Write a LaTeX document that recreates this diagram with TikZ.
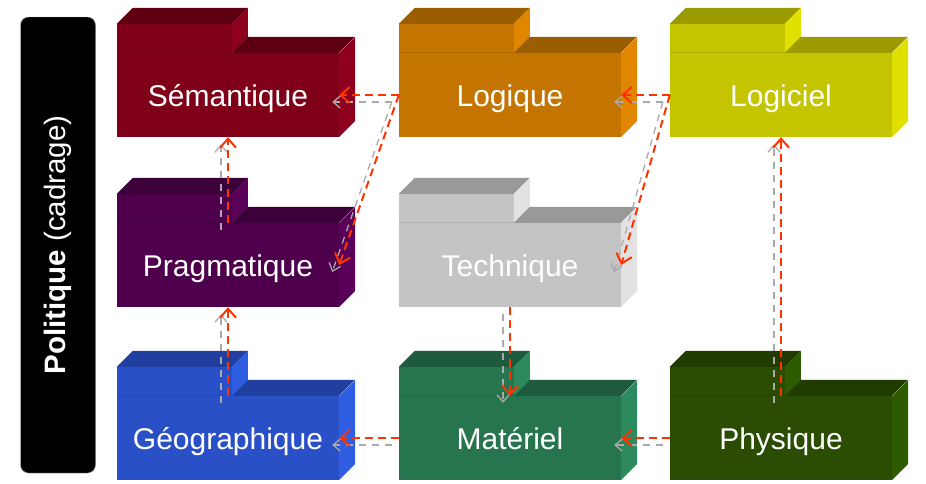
\documentclass[tikz,border=0pt]{standalone}
\usepackage{fontspec}
\setmainfont{Liberation Sans}
\usetikzlibrary{arrows.meta}

\definecolor{sem-front}{HTML}{800019}
\definecolor{sem-top}{HTML}{5E0012}
\definecolor{sem-side}{HTML}{8E001E}
\definecolor{lgq-front}{HTML}{C47400}
\definecolor{lgq-top}{HTML}{9A5D00}
\definecolor{lgq-side}{HTML}{E08600}
\definecolor{lgc-front}{HTML}{C4C400}
\definecolor{lgc-top}{HTML}{9B9B00}
\definecolor{lgc-side}{HTML}{E0E000}
\definecolor{prag-front}{HTML}{4E004C}
\definecolor{prag-top}{HTML}{3C003A}
\definecolor{prag-side}{HTML}{5A0058}
\definecolor{tec-front}{HTML}{C4C4C4}
\definecolor{tec-top}{HTML}{999999}
\definecolor{tec-side}{HTML}{E2E2E2}
\definecolor{geo-front}{HTML}{2A50C8}
\definecolor{geo-top}{HTML}{203F9E}
\definecolor{geo-side}{HTML}{2E5DE2}
\definecolor{mat-front}{HTML}{27754F}
\definecolor{mat-top}{HTML}{1D5A3E}
\definecolor{mat-side}{HTML}{2D8A5E}
\definecolor{phy-front}{HTML}{2A4C03}
\definecolor{phy-top}{HTML}{203C00}
\definecolor{phy-side}{HTML}{2E5A00}
\definecolor{depred}{HTML}{FF3300}
\definecolor{depgray}{HTML}{AAAAAA}

\begin{document}
\begin{tikzpicture}[x=1pt, y=-1pt,
    pkg/.style = {minimum width=222pt, minimum height=84pt, inner sep=0pt, text=white,
      text height=28pt, text depth=6pt, font=\fontsize{30}{36}\selectfont},
    dep/.style = {draw=depred, line width=2pt, dash pattern=on 8pt off 5pt,
      -{Straight Barb[length=9pt,width=16pt]}},
    dep shadow/.style = {draw=depgray, line width=1.3pt, dash pattern=on 7pt off 6pt,
      -{Straight Barb[length=7pt,width=12pt]}, transform canvas={xshift=-7pt,yshift=-7pt}}]
    \useasboundingbox (0,0) rectangle (926,483);

    \node[rotate=90, fill=black, draw=gray!70, rounded corners=8pt, minimum width=456pt,
      minimum height=75pt, text=white, font=\fontsize{29.5}{34}\selectfont]
      (pol) at (58,245) {\textbf{Politique} (cadrage)};

    \node[pkg, fill=sem-front] (sem) at (228,95) {Sémantique};
    \node[pkg, fill=lgq-front] (lgq) at (510,95) {Logique};
    \node[pkg, fill=lgc-front] (lgc) at (781,95) {Logiciel};
    \node[pkg, fill=prag-front] (prag) at (228,265) {Pragmatique};
    \node[pkg, fill=tec-front] (tec) at (510,265) {Technique};
    \node[pkg, fill=geo-front] (geo) at (228,438) {Géographique};
    \node[pkg, fill=mat-front] (mat) at (510,438) {Matériel};
    \node[pkg, fill=phy-front] (phy) at (781,438) {Physique};

    % tab and depth of each package
    \foreach \n in {sem,lgq,lgc,prag,tec,geo,mat,phy} {
      \fill[fill=\n-front] (\n.north west) rectangle ++(115,-29);
      \draw[draw=\n-top!50!\n-front, line width=0.8pt] (\n.north west) -- ++(115,0);
      \fill[fill=\n-top] (\n.north west) ++(0,-29) -- ++(16,-16) -- ++(115,0) -- ++(-16,16) -- cycle;
      \fill[fill=\n-side] (\n.north west) ++(115,0) -- ++(0,-29) -- ++(16,-16) -- ++(0,29) -- cycle;
      \fill[fill=\n-top] (\n.north west) ++(115,0) -- ++(16,-16) -- ++(107,0) -- ++(-16,16) -- cycle;
      \fill[fill=\n-side] (\n.north east) -- ++(16,-16) -- ++(0,84) -- ++(-16,16) -- cycle;
    }

    \draw[dep shadow] (lgq.west) -- (sem.east);
    \draw[dep shadow] (lgq.west) -- (prag.east);
    \draw[dep shadow] (lgc.west) -- (lgq.east);
    \draw[dep shadow] (lgc.west) -- (tec.east);
    \draw[dep shadow] (prag.north) -- (sem.south);
    \draw[dep shadow] (geo.north) -- (prag.south);
    \draw[dep shadow] (tec.south) -- (mat.north);
    \draw[dep shadow] (phy.north) -- (lgc.south);
    \draw[dep shadow] (mat.west) -- (geo.east);
    \draw[dep shadow] (phy.west) -- (mat.east);

    \draw[dep] (lgq.west) -- (sem.east);
    \draw[dep] (lgq.west) -- (prag.east);
    \draw[dep] (lgc.west) -- (lgq.east);
    \draw[dep] (lgc.west) -- (tec.east);
    \draw[dep] (prag.north) -- (sem.south);
    \draw[dep] (geo.north) -- (prag.south);
    \draw[dep] (tec.south) -- (mat.north);
    \draw[dep] (phy.north) -- (lgc.south);
    \draw[dep] (mat.west) -- (geo.east);
    \draw[dep] (phy.west) -- (mat.east);
\end{tikzpicture}
\end{document}
